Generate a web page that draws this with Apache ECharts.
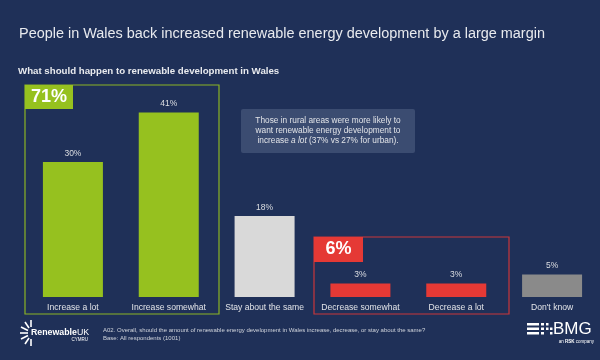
<!DOCTYPE html>
<html>
<head>
<meta charset="utf-8">
<script src="https://cdn.jsdelivr.net/npm/echarts@6/dist/echarts.min.js"></script>
<style>
html,body{margin:0;padding:0;background:#1f3058;}
#c{width:600px;height:360px;}
</style>
</head>
<body>
<div id="c"></div>
<script>
var categories = ['Increase a lot', 'Increase somewhat', 'Stay about the same', 'Decrease somewhat', 'Decrease a lot', "Don't know"];
var values = [30, 41, 18, 3, 3, 5];
var barColors = ['#96c11f', '#96c11f', '#d9d9d9', '#e53935', '#e53935', '#8a8a8a'];
var netIncrease = '71%';
var netDecrease = '6%';

var chart = echarts.init(document.getElementById('c'), null, {renderer: 'canvas'});
var font = '"Liberation Sans", Arial, sans-serif';

chart.setOption({
  backgroundColor: '#1f3058',
  animation: false,
  textStyle: {fontFamily: font},
  title: [
    {text: 'People in Wales back increased renewable energy development by a large margin',
     left: 19, top: 27, padding: 0, textStyle: {color: '#e8eaee', fontSize: 14.45, fontWeight: 'normal', fontFamily: font}},
    {text: 'What should happen to renewable development in Wales',
     left: 18, top: 66, padding: 0, textStyle: {color: '#e8eaee', fontSize: 9.7, fontWeight: 'bold', fontFamily: font}}
  ],
  grid: {left: 25, right: -4, top: 72, bottom: 63},
  xAxis: {
    type: 'category', data: categories,
    axisLine: {show: false}, axisTick: {show: false},
    axisLabel: {color: '#e2e4e8', fontSize: 8.6, margin: 6, interval: 0, fontFamily: font}
  },
  yAxis: {type: 'value', min: 0, max: 50, show: false, splitLine: {show: false}},
  series: [{
    type: 'bar', barWidth: 60,
    data: values.map(function (v, i) { return {value: v, itemStyle: {color: barColors[i]}}; }),
    label: {show: true, position: 'top', distance: 4, formatter: '{c}%', color: '#dcdee2', fontSize: 8.5, fontFamily: font}
  }],
  graphic: [
    {type: 'rect', shape: {x: 25, y: 85, width: 194, height: 229}, style: {fill: 'none', stroke: '#8bb324', lineWidth: 1.2}, z: 1},
    {type: 'rect', shape: {x: 25, y: 85, width: 48, height: 24}, style: {fill: '#96c11f'}, z: 2},
    {type: 'text', x: 49, y: 97, style: {text: netIncrease, fill: '#ffffff', font: 'bold 18px ' + font, textAlign: 'center', textVerticalAlign: 'middle'}, z: 3},
    {type: 'rect', shape: {x: 314, y: 237, width: 195, height: 77}, style: {fill: 'none', stroke: '#c9363a', lineWidth: 1.2}, z: 1},
    {type: 'rect', shape: {x: 314, y: 237, width: 49, height: 25}, style: {fill: '#e53935'}, z: 2},
    {type: 'text', x: 338.5, y: 249.5, style: {text: netDecrease, fill: '#ffffff', font: 'bold 18px ' + font, textAlign: 'center', textVerticalAlign: 'middle'}, z: 3},
    {type: 'rect', shape: {x: 241, y: 109, width: 174, height: 44, r: 2}, style: {fill: '#3b4c71'}, z: 1},
    {type: 'text', x: 328, y: 131, z: 2, style: {
      text: 'Those in rural areas were more likely to\nwant renewable energy development to\nincrease {i|a lot} (37% vs 27% for urban).',
      rich: {i: {fontStyle: 'italic', fontSize: 8.3, fill: '#e2e4e8', fontFamily: font}},
      fill: '#e2e4e8', fontSize: 8.3, fontFamily: font, lineHeight: 10, textAlign: 'center', textVerticalAlign: 'middle'
    }},
    {type: 'text', x: 103, y: 327, z: 2, style: {
      text: 'A02. Overall, should the amount of renewable energy development in Wales increase, decrease, or stay about the same?\nBase: All respondents (1001)',
      fill: '#d0d4dc', fontSize: 6, fontFamily: font, lineHeight: 7.5}},
    {type: 'group', x: 26, y: 333, z: 2, children: [
      {type: 'line', shape: {x1: -6, y1: 0, x2: 2, y2: 0}, style: {stroke: '#ffffff', lineWidth: 1.6}},
      {type: 'line', shape: {x1: -5, y1: -6, x2: 2, y2: -2.5}, style: {stroke: '#ffffff', lineWidth: 1.6}},
      {type: 'line', shape: {x1: -5, y1: 6, x2: 2, y2: 2.5}, style: {stroke: '#ffffff', lineWidth: 1.6}},
      {type: 'line', shape: {x1: -1, y1: -11, x2: 3, y2: -5}, style: {stroke: '#ffffff', lineWidth: 1.6}},
      {type: 'line', shape: {x1: -1, y1: 11, x2: 3, y2: 5}, style: {stroke: '#ffffff', lineWidth: 1.6}},
      {type: 'line', shape: {x1: 5, y1: -13, x2: 5, y2: -6}, style: {stroke: '#ffffff', lineWidth: 1.6}},
      {type: 'line', shape: {x1: 5, y1: 13, x2: 5, y2: 6}, style: {stroke: '#ffffff', lineWidth: 1.6}},
      {type: 'text', x: 5, y: 0, style: {text: '{b|Renewable}{u|UK}', rich: {b: {fontWeight: 'bold', fontSize: 8.8, fill: '#ffffff', fontFamily: font}, u: {fontSize: 8.8, fill: '#ffffff', fontFamily: font}}, textVerticalAlign: 'middle'}},
      {type: 'text', x: 62, y: 6.5, style: {text: 'CYMRU', fill: '#ffffff', fontSize: 4.5, fontFamily: font, textAlign: 'right', textVerticalAlign: 'middle'}}
    ]},
    {type: 'group', x: 527, y: 323, z: 2, children: [
      {type: 'rect', shape: {x: 0, y: 0, width: 12, height: 2.5}, style: {fill: '#ffffff'}},
      {type: 'rect', shape: {x: 0, y: 4.5, width: 12, height: 2.5}, style: {fill: '#ffffff'}},
      {type: 'rect', shape: {x: 0, y: 9, width: 12, height: 2.5}, style: {fill: '#ffffff'}},
      {type: 'rect', shape: {x: 14, y: 0, width: 3, height: 2.5}, style: {fill: '#ffffff'}},
      {type: 'rect', shape: {x: 14, y: 4.5, width: 3, height: 2.5}, style: {fill: '#ffffff'}},
      {type: 'rect', shape: {x: 14, y: 9, width: 3, height: 2.5}, style: {fill: '#ffffff'}},
      {type: 'rect', shape: {x: 19, y: 0, width: 2.5, height: 2.5}, style: {fill: '#ffffff'}},
      {type: 'rect', shape: {x: 19, y: 4.5, width: 2.5, height: 2.5}, style: {fill: '#ffffff'}},
      {type: 'rect', shape: {x: 23, y: 4.5, width: 2.5, height: 2.5}, style: {fill: '#ffffff'}},
      {type: 'rect', shape: {x: 23, y: 9, width: 2.5, height: 2.5}, style: {fill: '#ffffff'}},
      {type: 'text', x: 26, y: 6, style: {text: 'BMG', fill: '#ffffff', fontSize: 17, fontFamily: font, textVerticalAlign: 'middle'}},
      {type: 'text', x: 67, y: 19, style: {text: '{a|an }{b|RSK}{a| company}', rich: {a: {fontSize: 4.5, fill: '#ffffff', fontFamily: font}, b: {fontSize: 4.5, fontWeight: 'bold', fill: '#ffffff', fontFamily: font}}, textAlign: 'right', textVerticalAlign: 'middle'}}
    ]}
  ]
});
</script>
</body>
</html>
